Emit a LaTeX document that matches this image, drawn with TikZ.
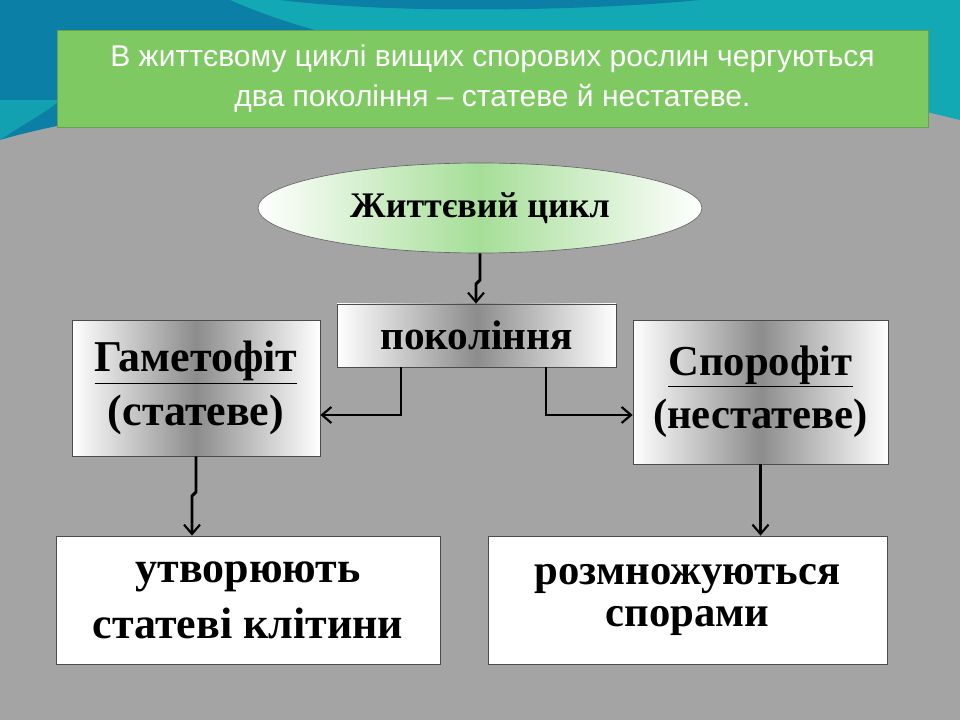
\documentclass[tikz,border=0pt]{standalone}
\usepackage{fontspec}
\setmainfont{Liberation Serif}
\newfontfamily\topfont{Liberation Sans}
\usetikzlibrary{arrows.meta,shapes.geometric}
\definecolor{bg}{HTML}{A4A4A4}
\definecolor{teal1}{HTML}{0B7FA5}
\definecolor{teal2}{HTML}{12A9B4}
\definecolor{boxgreen}{HTML}{7EC961}
\definecolor{elgreen}{HTML}{A6DE98}
\begin{document}
\begin{tikzpicture}[x=0.75pt,y=-0.75pt,
  gbox/.style={draw=black!70,line width=0.6pt,left color=white,right color=white,middle color=black!45,
     font=\bfseries\fontsize{31}{36}\selectfont,align=center,inner sep=0pt},
  arr/.style={line width=2.2pt,-{Straight Barb[length=7pt,width=12pt,line width=1.6pt]}},
  plain/.style={line width=2.2pt}]
\useasboundingbox (0,0) rectangle (960,720);
\fill[bg] (0,0) rectangle (960,720);
\fill[teal2] (0,0) -- (960,0) -- (960,120) .. controls (800,80) and (620,60) .. (560,60) -- (0,60) -- cycle;
\fill[teal1] (0,0) -- (700,0) .. controls (600,10) and (400,15) .. (280,0) -- cycle;
\fill[teal1] (0,0) -- (230,0) .. controls (320,40) and (420,55) .. (560,70) .. controls (300,90) and (100,110) .. (0,140) -- cycle;
\fill[teal2!80!teal1] (0,140) .. controls (30,120) and (50,110) .. (60,100) -- (0,100) -- cycle;
\node[fill=boxgreen,draw=boxgreen!80!black,line width=0.5pt,minimum width=871*0.75pt,minimum height=97*0.75pt,
  text=white,align=center,font=\topfont\fontsize{22.5}{30}\selectfont] (top) at (492.5,78.5)
  {В життєвому циклі вищих спорових рослин чергуються\\два покоління – статеве й нестатеве.};
\node[ellipse,draw=black!60,line width=0.5pt,left color=white,right color=white,middle color=elgreen,
  minimum width=444*0.75pt,minimum height=90*0.75pt,font=\bfseries\fontsize{27}{32}\selectfont] (cyc) at (480,208) {Життєвий цикл};
\node[gbox,minimum width=279*0.75pt,minimum height=63*0.75pt] (gen) at (476.5,335.5) {покоління};
\node[gbox,minimum width=248*0.75pt,minimum height=136*0.75pt,font=\bfseries\fontsize{33}{40}\selectfont] (gam) at (196,388) {\underline{Гаметофіт}\\(статеве)};
\node[gbox,minimum width=255*0.75pt,minimum height=144*0.75pt,font=\bfseries\fontsize{32}{40}\selectfont] (spo) at (760.5,392) {\underline{Спорофіт}\\(нестатеве)};
\node[draw=black!70,fill=white,line width=0.6pt,minimum width=384*0.75pt,minimum height=128*0.75pt,align=center,
  font=\bfseries\fontsize{33}{42}\selectfont] (utv) at (248,600) {утворюють\\статеві клітини};
\node[draw=black!70,fill=white,line width=0.6pt,minimum width=399*0.75pt,minimum height=128*0.75pt,align=center,
  font=\bfseries\fontsize{32}{42}\selectfont] (roz) at (687.5,600) {\raisebox{-10pt}{розмножуються}\\спорами};
\coordinate (a1) at (480,280); \coordinate (a2) at (476,284);
\draw[arr] (cyc.south -| a1) -- (a1) -- (a2) -- (a2 |- gen.north);
\coordinate (l1) at (401,415); \coordinate (r1) at (546,415);
\draw[arr] (gen.south -| l1) -- (l1) -- (gam.east |- l1);
\draw[arr] (gen.south -| r1) -- (r1) -- (spo.west |- r1);
\coordinate (g1) at (196,492); \coordinate (g2) at (192,496);
\draw[arr] (gam.south -| g1) -- (g1) -- (g2) -- (g2 |- utv.north);
\draw[arr] (spo.south) -- (spo.south |- roz.north);
\end{tikzpicture}
\end{document}
